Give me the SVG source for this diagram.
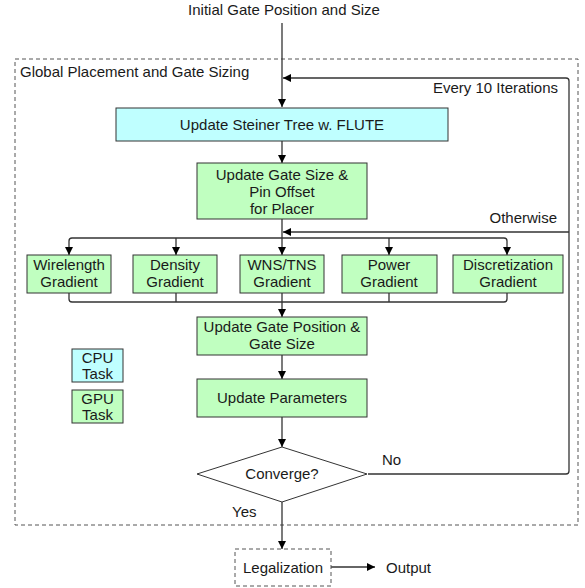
<svg xmlns="http://www.w3.org/2000/svg" width="585" height="588" viewBox="0 0 585 588">
<style>
text{font-family:"Liberation Sans",Arial,sans-serif;font-size:15px;fill:#1a1a1a}
.c{text-anchor:middle}
.cpu{fill:#bfffff;stroke:#333;stroke-width:1}
.gpu{fill:#c0ffc0;stroke:#333;stroke-width:1}
.dash{fill:none;stroke:#555;stroke-width:1;stroke-dasharray:4,3}
.ln{fill:none;stroke:#333;stroke-width:1.3}
.ar{fill:none;stroke:#333;stroke-width:1.3;marker-end:url(#ah)}
</style>
<defs>
<marker id="ah" viewBox="0 0 10 10" refX="10" refY="5" markerWidth="8" markerHeight="8" markerUnits="userSpaceOnUse" orient="auto">
<path d="M0,0 L10,5 L0,10 z" fill="#000"/>
</marker>
</defs>
<g id="outer">
<rect class="dash" x="15" y="59" width="563" height="466"/>
<text x="20" y="77">Global Placement and Gate Sizing</text>
</g>
<text id="input" class="c" x="284" y="15">Initial Gate Position and Size</text>
<g id="connectors">
<path class="ar" d="M282,23 V107"/>
<path class="ar" d="M368,474 H566 Q569,474 569,471 V81 Q569,78 566,78 H283"/>
<path class="ar" d="M569,232 H283"/>
<path class="ar" d="M282,141 V163"/>
<path class="ln" d="M282,219 V238"/>
<path class="ln" d="M72,238 H504"/>
<path class="ar" d="M69,241 Q69,238 72,238 M69,241 V255"/>
<path class="ar" d="M504,238 Q507,238 507,241 V255"/>
<path class="ar" d="M176,238 V255"/>
<path class="ar" d="M282,238 V255"/>
<path class="ar" d="M389,238 V255"/>
<path class="ln" d="M69,293 V299 Q69,302 72,302 H504 Q507,302 507,299 V293"/>
<path class="ln" d="M176,293 V302 M389,293 V302"/>
<path class="ar" d="M282,293 V317"/>
<path class="ar" d="M282,355 V379"/>
<path class="ar" d="M282,417 V447"/>
<path class="ar" d="M282,502 V549"/>
<path class="ar" d="M331,567 H375"/>
</g>
<text x="558" y="93" text-anchor="end">Every 10 Iterations</text>
<text x="557" y="223" text-anchor="end">Otherwise</text>
<text x="382" y="465">No</text>
<text x="232" y="517">Yes</text>
<g id="steiner">
<rect class="cpu" x="116" y="108" width="332" height="33"/>
<text class="c" x="282" y="130">Update Steiner Tree w. FLUTE</text>
</g>
<g id="gatesize">
<rect class="gpu" x="197" y="163" width="170" height="56"/>
<text class="c" x="282" y="180">Update Gate Size &amp;</text>
<text class="c" x="282" y="197">Pin Offset</text>
<text class="c" x="282" y="214">for Placer</text>
</g>
<g id="wirelength">
<rect class="gpu" x="27" y="255" width="84" height="38"/>
<text class="c" x="69" y="270">Wirelength</text>
<text class="c" x="69" y="287">Gradient</text>
</g>
<g id="density">
<rect class="gpu" x="133" y="255" width="84" height="38"/>
<text class="c" x="175" y="270">Density</text>
<text class="c" x="175" y="287">Gradient</text>
</g>
<g id="wns">
<rect class="gpu" x="240" y="255" width="84" height="38"/>
<text class="c" x="282" y="270">WNS/TNS</text>
<text class="c" x="282" y="287">Gradient</text>
</g>
<g id="power">
<rect class="gpu" x="342" y="255" width="95" height="38"/>
<text class="c" x="389" y="270">Power</text>
<text class="c" x="389" y="287">Gradient</text>
</g>
<g id="discretization">
<rect class="gpu" x="453" y="255" width="110" height="38"/>
<text class="c" x="508" y="270">Discretization</text>
<text class="c" x="508" y="287">Gradient</text>
</g>
<g id="gatepos">
<rect class="gpu" x="197" y="317" width="170" height="38"/>
<text class="c" x="282" y="332">Update Gate Position &amp;</text>
<text class="c" x="282" y="349">Gate Size</text>
</g>
<g id="params">
<rect class="gpu" x="197" y="379" width="170" height="38"/>
<text class="c" x="282" y="403">Update Parameters</text>
</g>
<g id="converge">
<path d="M282,447 L367,474 L282,502 L197,474 z" fill="#fff" stroke="#333" stroke-width="1"/>
<text class="c" x="282" y="479">Converge?</text>
</g>
<g id="cpulegend">
<rect class="cpu" x="72" y="349" width="51" height="33"/>
<text class="c" x="97.5" y="363">CPU</text>
<text class="c" x="97.5" y="379">Task</text>
</g>
<g id="gpulegend">
<rect class="gpu" x="72" y="390" width="51" height="33"/>
<text class="c" x="97.5" y="404">GPU</text>
<text class="c" x="97.5" y="420">Task</text>
</g>
<g id="legalization">
<rect class="dash" x="235" y="549" width="96" height="37"/>
<text class="c" x="283" y="573">Legalization</text>
</g>
<text id="output" x="386" y="573">Output</text>
</svg>
